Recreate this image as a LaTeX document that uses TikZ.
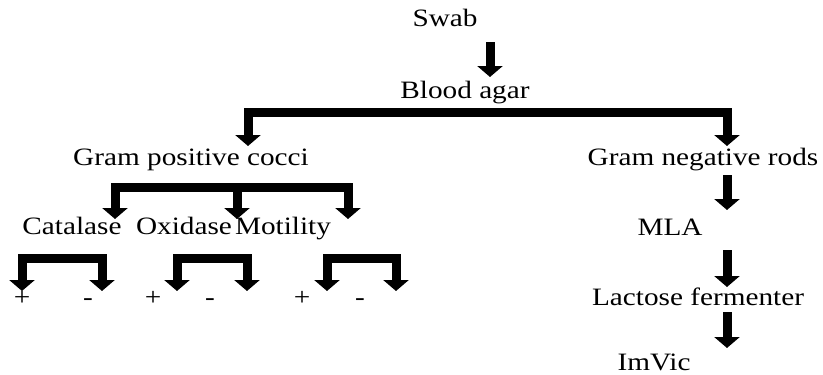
\documentclass[tikz,border=0pt]{standalone}
\usepackage{fontspec}
\setmainfont[FakeStretch=1.17]{Liberation Serif}
\usetikzlibrary{arrows.meta}
\tikzset{
  lbl/.style={inner sep=0pt, anchor=base, font=\fontsize{25}{28}\selectfont},
  blkarrow/.style={line width=9pt, line join=miter, -{Triangle[width=25pt,length=11pt]}},
  blkfork/.style={line width=9pt, line join=miter,
    {Triangle[width=25pt,length=11pt]}-{Triangle[width=25pt,length=11pt]}},
}
\begin{document}
\begin{tikzpicture}[x=1pt,y=-1pt]
  \useasboundingbox (0,0) rectangle (823,375);

  % labels
  \node[lbl] (swab)  at (445,26)  {Swab};
  \node[lbl] (blood) at (465,98)  {Blood agar};
  \node[lbl] (gpc)   at (191,165) {Gram positive cocci};
  \node[lbl] (gnr)   at (703,165) {Gram negative rods};
  \node[lbl] (cat)   at (72,234)  {Catalase};
  \node[lbl] (oxi)   at (184,234) {Oxidase};
  \node[lbl] (mot)   at (283,234) {Motility};
  \node[lbl] (mla)   at (670,235) {MLA};
  \node[lbl] (lac)   at (698,305) {Lactose fermenter};
  \node[lbl] (imv)   at (654,370) {ImVic};

  \node[lbl] (catp) at (22,305)  {+};
  \node[lbl] (catn) at (88,305)  {-};
  \node[lbl] (oxip) at (153,305) {+};
  \node[lbl] (oxin) at (210,305) {-};
  \node[lbl] (motp) at (302,305) {+};
  \node[lbl] (motn) at (360,305) {-};

  % arrow end points
  \coordinate (s0) at (490,42);  \coordinate (s1) at (490,77);
  \coordinate (f1l) at (248,146); \coordinate (f1bar) at (727,112); \coordinate (f1r) at (727,146);
  \coordinate (f2l) at (115,219); \coordinate (f2bar) at (348,187); \coordinate (f2r) at (348,219);
  \coordinate (f2m0) at (237,187); \coordinate (f2m1) at (237,219);
  \coordinate (f3l) at (22,291);  \coordinate (f3bar) at (102,258); \coordinate (f3r) at (102,291);
  \coordinate (f4l) at (177,291); \coordinate (f4bar) at (247,258); \coordinate (f4r) at (247,291);
  \coordinate (f5l) at (327,291); \coordinate (f5bar) at (396,258); \coordinate (f5r) at (396,291);
  \coordinate (r0) at (727,175); \coordinate (r1) at (727,210);
  \coordinate (r2) at (727,250); \coordinate (r3) at (727,287);
  \coordinate (r4) at (727,312); \coordinate (r5) at (727,348);

  % connectors
  \draw[blkarrow] (s0) -- (s1);
  \draw[blkfork] (f1l) |- (f1bar) -- (f1r);
  \draw[blkfork] (f2l) |- (f2bar) -- (f2r);
  \draw[blkarrow] (f2m0) -- (f2m1);
  \draw[blkfork] (f3l) |- (f3bar) -- (f3r);
  \draw[blkfork] (f4l) |- (f4bar) -- (f4r);
  \draw[blkfork] (f5l) |- (f5bar) -- (f5r);
  \draw[blkarrow] (r0) -- (r1);
  \draw[blkarrow] (r2) -- (r3);
  \draw[blkarrow] (r4) -- (r5);
\end{tikzpicture}
\end{document}
